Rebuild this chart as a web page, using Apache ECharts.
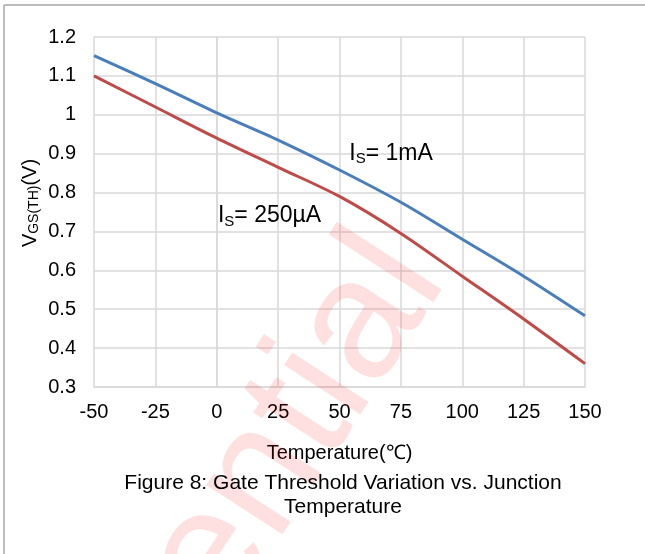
<!DOCTYPE html>
<html><head><meta charset="utf-8">
<script src="https://cdn.jsdelivr.net/npm/echarts@6/dist/echarts.min.js"></script>
<style>html,body{margin:0;padding:0;background:#fff}#c{width:645px;height:554px}</style>
</head><body><div id="c"></div>
<script>
const temps = [-50, -25, 0, 25, 50, 75, 100, 125, 150];
const vth1mA = [1.152, 1.08, 1.005, 0.935, 0.858, 0.775, 0.68, 0.585, 0.483];
const vth250uA = [1.10, 1.02, 0.94, 0.865, 0.79, 0.695, 0.585, 0.475, 0.36];
const xTitle = 'Temperature(℃)';
const caption = ['Figure 8: Gate Threshold Variation vs. Junction', 'Temperature'];
const FONT = 'Liberation Sans, Arial, sans-serif';

const chart = echarts.init(document.getElementById('c'), null, {renderer: 'canvas'});
const pairs = (xs, ys) => xs.map((x, i) => [x, ys[i]]);
const option = {
  animation: false,
  grid: {left: 94, right: 60, top: 37, bottom: 167},
  xAxis: {
    type: 'value', min: -50, max: 150, interval: 25,
    axisLine: {lineStyle: {color: '#d9d9d9', width: 1.5}},
    axisTick: {show: false},
    axisLabel: {color: '#000', fontSize: 20, fontFamily: FONT, margin: 15},
    splitLine: {show: true, lineStyle: {color: '#d9d9d9', width: 1.5}},
    name: xTitle, nameLocation: 'middle', nameGap: 56,
    nameTextStyle: {color: '#000', fontSize: 20, fontFamily: FONT}
  },
  yAxis: {
    type: 'value', min: 0.3, max: 1.2, interval: 0.1,
    axisLine: {show: true, lineStyle: {color: '#d9d9d9', width: 1.5}},
    axisTick: {show: false},
    axisLabel: {color: '#000', fontSize: 20, fontFamily: FONT, margin: 18,
      formatter: v => String(Math.round(v * 10) / 10)},
    splitLine: {show: true, lineStyle: {color: '#d9d9d9', width: 1.5}}
  },
  series: [
    {type: 'line', name: 'IS=1mA', data: pairs(temps, vth1mA), smooth: 0.3, showSymbol: false,
      lineStyle: {color: '#4a7ebb', width: 3}, z: 3},
    {type: 'line', name: 'IS=250uA', data: pairs(temps, vth250uA), smooth: 0.3, showSymbol: false,
      lineStyle: {color: '#be4b48', width: 3}, z: 3}
  ]
};
chart.setOption(option);

function px(x, y) { return chart.convertToPixel({gridIndex: 0}, [x, y]); }
const a1 = px(54, 0.9);
const a2 = px(0.5, 0.74);
const richI = {
  m: {fontSize: 23, fontFamily: FONT, color: '#000'},
  s: {fontSize: 15, fontFamily: FONT, color: '#000', padding: [11, 0, 0, 0]}
};
chart.setOption({
  graphic: [
    {type: 'line', shape: {x1: 4, y1: 5, x2: 645, y2: 5}, style: {stroke: '#a6a6a6', lineWidth: 1.5}, silent: true},
    {type: 'line', shape: {x1: 4, y1: 5, x2: 4, y2: 554}, style: {stroke: '#a6a6a6', lineWidth: 1.5}, silent: true},
    {type: 'text', x: 408, y: 254, rotation: 57 * Math.PI / 180, z: 1,
      style: {text: 'Confidential', font: '172px ' + FONT, fill: 'rgba(255,0,0,0.12)', textAlign: 'right', textVerticalAlign: 'middle'}, silent: true},
    {type: 'text', x: a1[0], y: a1[1], z: 10,
      style: {text: '{m|I}{s|S}{m|= 1mA}', rich: richI, textAlign: 'left', textVerticalAlign: 'middle'}},
    {type: 'text', x: a2[0], y: a2[1], z: 10,
      style: {text: '{m|I}{s|S}{m|= 250µA}', rich: richI, textAlign: 'left', textVerticalAlign: 'middle'}},
    {type: 'text', x: 30, y: 203, rotation: Math.PI / 2, z: 10,
      style: {text: '{m|V}{s|GS(TH)}{m|(V)}', rich: {
        m: {fontSize: 20, fontFamily: FONT, color: '#000'},
        s: {fontSize: 14, fontFamily: FONT, color: '#000', padding: [9, 0, 0, 0]}
      }, textAlign: 'center', textVerticalAlign: 'middle'}},
    {type: 'text', x: 343, y: 483, z: 10,
      style: {text: caption[0], font: '21px ' + FONT, fill: '#000', textAlign: 'center', textVerticalAlign: 'middle'}},
    {type: 'text', x: 343, y: 507, z: 10,
      style: {text: caption[1], font: '21px ' + FONT, fill: '#000', textAlign: 'center', textVerticalAlign: 'middle'}}
  ]
});
</script></body></html>
